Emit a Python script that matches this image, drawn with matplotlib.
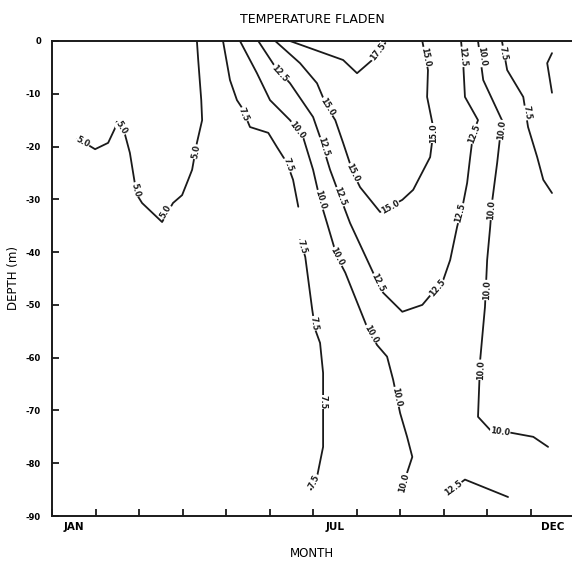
import numpy as np
import matplotlib
matplotlib.use('Agg')
from matplotlib import pyplot as plt

# contour lines: month (0 = 1 Jan) and depth (m)
c50_month = [0.57, 0.83, 0.99, 1.29, 1.45, 1.49, 1.68, 1.79, 1.91, 1.98, 2.07,
             2.53, 2.78, 2.99, 3.13, 3.22, 3.33, 3.45, 3.43, 3.36, 3.33]
c50_depth = [-18.6, -19.7, -20.5, -19.3, -16.5, -15.3, -17.8, -21.2, -27.3,
             -29.5, -30.7, -34.3, -30.7, -29.2, -26.3, -24.4, -19.3, -15.0,
             -11.2, -3.6, 0.0]
c50_lab = [(0.71, -19.1), (1.59, -16.5), (1.91, -28.2), (2.62, -32.4),
           (3.31, -21.0)]

c75a_month = [3.93, 4.09, 4.25, 4.37, 4.55, 4.97, 5.17, 5.40, 5.54, 5.66]
c75a_depth = [0.0, -7.4, -11.2, -12.7, -16.3, -17.4, -20.1, -23.1, -26.3, -31.4]
c75a_lab = [(4.39, -14.0), (5.43, -23.5)]

c75b_month = [5.70, 5.82, 5.98, 6.05, 6.16, 6.23, 6.23, 6.23, 6.09, 5.95]
c75b_depth = [-37.7, -40.9, -50.9, -54.7, -57.2, -62.9, -68.0, -76.9, -82.6,
              -85.0]
c75b_lab = [(5.75, -39.0), (6.02, -53.5), (6.23, -68.4), (6.02, -83.4)]

c100a_month = [4.32, 4.71, 5.01, 5.47, 5.77, 6.00, 6.16, 6.32, 6.55, 6.74,
               7.24, 7.47, 7.70, 7.84, 8.00, 8.16, 8.28, 8.16, 8.05]
c100a_depth = [0.0, -6.1, -11.2, -15.0, -18.2, -24.4, -30.1, -34.5, -40.9,
               -43.9, -54.2, -57.6, -59.8, -64.2, -70.5, -75.0, -78.8, -81.8,
               -85.4]
c100a_lab = [(5.63, -16.9), (6.16, -30.1), (6.55, -40.9), (7.33, -55.5),
             (7.93, -67.4), (8.09, -83.7)]

c125a_month = [4.74, 5.13, 5.47, 6.00, 6.16, 6.39, 6.62, 6.85, 7.38, 7.61,
               8.05, 8.51, 8.99, 9.15, 9.31, 9.45, 9.54, 9.61, 9.68, 9.79,
               9.49, 9.45, 9.40]
c125a_depth = [0.0, -4.9, -8.0, -14.4, -18.2, -24.4, -29.5, -34.5, -43.9,
               -47.7, -51.3, -50.0, -45.3, -41.5, -35.2, -30.7, -26.9, -22.0,
               -17.4, -15.0, -10.6, -4.2, 0.0]
c125a_lab = [(5.24, -6.1), (6.23, -20.1), (6.62, -29.5), (7.49, -45.8),
             (8.85, -46.8), (9.38, -32.6), (9.70, -17.6), (9.44, -3.0)]

c150_month = [5.13, 5.70, 6.09, 6.32, 6.51, 6.69, 6.92, 7.08, 7.54, 8.05,
              8.30, 8.69, 8.74, 8.74, 8.62, 8.64, 8.51]
c150_depth = [0.0, -4.2, -8.0, -12.5, -15.0, -19.3, -25.0, -27.7, -32.4,
              -30.1, -28.2, -22.0, -18.8, -15.5, -10.6, -5.5, 0.0]
c150_lab = [(6.32, -12.5), (6.92, -25.0), (7.77, -31.4), (8.76, -17.4),
            (8.58, -3.0)]

c175_month = [5.47, 6.69, 7.01, 7.36, 7.66]
c175_depth = [0.0, -3.6, -6.1, -3.6, -0.4]
c175_lab = [(7.49, -2.1)]

c100b_month = [9.79, 9.91, 10.34, 10.23, 10.11, 10.07, 10.00, 9.95, 9.84,
               9.79, 10.07, 10.53, 11.06, 11.40]
c100b_depth = [0.0, -7.4, -15.0, -23.1, -30.7, -35.2, -41.5, -50.4, -60.4,
               -71.2, -73.7, -74.2, -75.0, -76.9]
c100b_lab = [(9.89, -3.0), (10.34, -16.9), (10.09, -32.0), (10.0, -47.2),
             (9.85, -62.3), (10.30, -74.0)]

c75c_month = [10.34, 10.46, 10.83, 10.94, 11.15, 11.29, 11.49]
c75c_depth = [0.0, -5.5, -10.6, -16.3, -22.0, -26.3, -28.8]
c75c_lab = [(10.37, -2.3), (10.92, -13.6)]

c50b_month = [11.49, 11.38, 11.49]
c50b_depth = [-2.3, -4.2, -9.8]

c125b_month = [9.08, 9.49, 10.48]
c125b_depth = [-85.6, -83.1, -86.4]
c125b_lab = [(9.22, -84.7)]

lines = [
    (c50_month, c50_depth, c50_lab, '5.0'),
    (c75a_month, c75a_depth, c75a_lab, '7.5'),
    (c75b_month, c75b_depth, c75b_lab, '7.5'),
    (c100a_month, c100a_depth, c100a_lab, '10.0'),
    (c125a_month, c125a_depth, c125a_lab, '12.5'),
    (c150_month, c150_depth, c150_lab, '15.0'),
    (c175_month, c175_depth, c175_lab, '17.5'),
    (c100b_month, c100b_depth, c100b_lab, '10.0'),
    (c75c_month, c75c_depth, c75c_lab, '7.5'),
    (c50b_month, c50b_depth, [], '5.0'),
    (c125b_month, c125b_depth, c125b_lab, '12.5'),
]

depth_ticks = [0, -10, -20, -30, -40, -50, -60, -70, -80, -90]
month_names = ['JAN', 'JUL', 'DEC']
month_label_pos = [0.5, 6.5, 11.5]

plt.rcParams['font.family'] = ['DejaVu Sans']
fig = plt.figure(figsize=(5.72, 5.62), dpi=100)
ax = fig.add_axes([52 / 572, 46 / 562, 520 / 572, 475 / 562])
ax.set_xlim(0, 11.95)
ax.set_ylim(-90, 0)


def label_angle(xs, ys, px, py):
    pts = ax.transData.transform(np.column_stack([xs, ys]))
    p = ax.transData.transform((px, py))
    mids = (pts[1:] + pts[:-1]) / 2
    i = np.argmin(np.hypot(*(mids - p).T))
    dx, dy = pts[i + 1] - pts[i]
    ang = np.degrees(np.arctan2(dy, dx))
    if ang > 90:
        ang -= 180
    if ang < -90:
        ang += 180
    return ang


for xs, ys, labs, val in lines:
    ax.plot(xs, ys, color='#1a1a1a', lw=1.3, solid_capstyle='round')
    for lx, ly in labs:
        ax.text(lx, ly, val, fontsize=5.8, fontweight='bold', color='#1a1a1a',
                ha='center', va='center',
                rotation=label_angle(xs, ys, lx, ly), rotation_mode='anchor',
                bbox=dict(boxstyle='square,pad=0.05', fc='white', ec='none'))

ax.spines['right'].set_visible(False)
for s in ['left', 'bottom', 'top']:
    ax.spines[s].set_linewidth(1.4)
    ax.spines[s].set_color('#1a1a1a')

ax.set_yticks(depth_ticks)
ax.set_yticklabels([str(d) for d in depth_ticks], fontsize=6, fontweight='bold')
ax.set_xticks(range(12))
ax.set_xticklabels([])
ax.set_xticks(month_label_pos, minor=True)
ax.set_xticklabels(month_names, minor=True, fontsize=7.5, fontweight='bold')
ax.tick_params(axis='both', which='major', direction='in', length=5,
               width=1.3, color='#1a1a1a')
ax.tick_params(axis='x', which='minor', length=0, pad=4)
ax.tick_params(axis='y', pad=8)

ax.set_title('TEMPERATURE FLADEN', fontsize=9, pad=13)
ax.set_xlabel('MONTH', fontsize=8.5, labelpad=11)
ax.set_ylabel('DEPTH (m)', fontsize=8.5, labelpad=4)

fig.savefig('out.png', dpi=100)
